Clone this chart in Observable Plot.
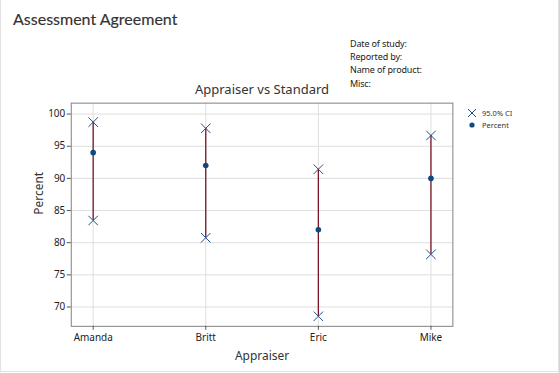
<!DOCTYPE html>
<html>
<head>
<meta charset="utf-8">
<script src="https://cdn.jsdelivr.net/npm/d3@7"></script>
<script src="https://cdn.jsdelivr.net/npm/@observablehq/plot@0.6"></script>
<style>
  html, body { margin: 0; padding: 0; background: #fff; }
  #wrap { position: relative; width: 559px; height: 372px; box-sizing: border-box; border: 1px solid #e2e2e2; border-top: none; overflow: hidden; font-family: "Noto Sans", sans-serif; color: #333; }
  #wrap svg.plot { position: absolute; left: -1px; top: 0; }
  .abs { position: absolute; white-space: nowrap; }
  #title { left: 12px; top: 9px; font-family: Lato, "Noto Sans", sans-serif; font-size: 16px; font-weight: 400; color: #333; -webkit-text-stroke: 0.15px #333; }
  #info { left: 349px; top: 37px; font-size: 9px; letter-spacing: -0.15px; line-height: 13.2px; color: #222; }
  #sub { left: 0; width: 522px; text-align: center; top: 80px; font-size: 13px; color: #333; }
  #legend { left: 466px; top: 107px; font-size: 7.5px; color: #333; }
  #legend div { display: flex; align-items: center; height: 12px; }
  #legend svg { margin-right: 5px; }
</style>
</head>
<body>
<div id="wrap">
  <div id="title" class="abs">Assessment Agreement</div>
  <div id="info" class="abs">Date of study:<br>Reported by:<br>Name of product:<br>Misc:</div>
  <div id="sub" class="abs">Appraiser vs Standard</div>
  <div id="legend" class="abs">
    <div><svg width="10" height="10"><path d="M1,1L9,9M9,1L1,9" stroke="#1f4e8c" stroke-width="1"/></svg>95.0% CI</div>
    <div><svg width="10" height="10"><circle cx="5" cy="5" r="2.6" fill="#0e4a80"/></svg>Percent</div>
  </div>
</div>
<script>
const appraisers = ["Amanda", "Britt", "Eric", "Mike"];
const percent = [94, 92, 82, 90];
const ciLower = [83.45, 80.77, 68.56, 78.19];
const ciUpper = [98.75, 97.78, 91.42, 96.67];
const yTicks = [70, 75, 80, 85, 90, 95, 100];

const rows = appraisers.map((a, i) => ({appraiser: a, pct: percent[i], lo: ciLower[i], hi: ciUpper[i]}));
const ciPoints = rows.flatMap(d => [{appraiser: d.appraiser, v: d.lo}, {appraiser: d.appraiser, v: d.hi}]);

const chart = Plot.plot({
  width: 559,
  height: 373,
  marginLeft: 70,
  marginRight: 106,
  marginTop: 103,
  marginBottom: 46,
  style: {fontFamily: "Noto Sans, sans-serif", fontSize: "10px", color: "#222", background: "transparent"},
  x: {type: "point", domain: appraisers, padding: 0.18, label: null},
  y: {domain: [67, 101.7], label: null},
  marks: [
    Plot.gridY(yTicks, {stroke: "#dedede", strokeOpacity: 1}),
    Plot.gridX(appraisers, {stroke: "#dedede", strokeOpacity: 1}),
    Plot.frame({stroke: "#808080"}),
    Plot.axisY(yTicks, {tickSize: 4, tickPadding: 2, stroke: "#555", fontSize: 10, label: null}),
    Plot.axisX(appraisers, {tickSize: 4, tickPadding: 4, stroke: "#555", fontSize: 10, label: null}),
    Plot.ruleX(rows, {x: "appraiser", y1: "lo", y2: "hi", stroke: "#7a1526", strokeWidth: 1.3}),
    Plot.dot(ciPoints, {x: "appraiser", y: "v", symbol: "times", r: 4.4, stroke: "#1f4e8c", strokeWidth: 1}),
    Plot.dot(rows, {x: "appraiser", y: "pct", r: 2.8, fill: "#0e4a80"}),
    Plot.text(["Percent"], {frameAnchor: "left", dx: -32, rotate: -90, fontSize: 12, fill: "#333", text: d => d}),
    Plot.text(["Appraiser"], {frameAnchor: "bottom", dy: 34, fontSize: 12, fill: "#333", text: d => d})
  ]
});
document.getElementById("wrap").prepend(chart);
</script>
</body>
</html>
